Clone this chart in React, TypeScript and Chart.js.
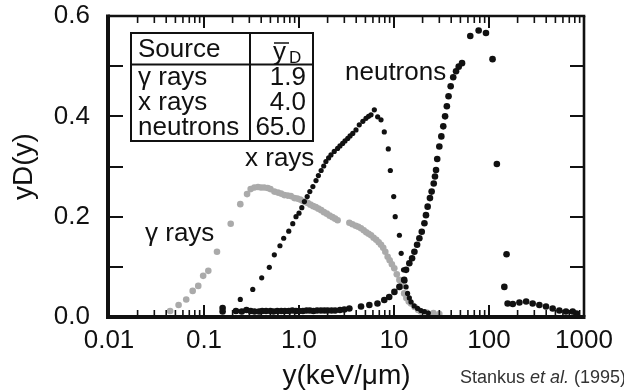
import React, { useEffect, useRef } from "react";
import { Chart, registerables } from "chart.js";

Chart.register(...registerables);

const FONT = "'Liberation Sans', Arial, Helvetica, sans-serif";

const xTickValues = [0.01, 0.1, 1, 10, 100, 1000];
const xTickLabels = ["0.01", "0.1", "1.0", "10", "100", "1000"];
const yTickValues = [0, 0.2, 0.4, 0.6];
const yTickLabels = ["0.0", "0.2", "0.4", "0.6"];

const gammaRays: [number, number][] = [
  [0.044, 0.012], [0.054, 0.024], [0.065, 0.035], [0.076, 0.052], [0.087, 0.062],
  [0.098, 0.082], [0.111, 0.092], [0.137, 0.13], [0.191, 0.186], [0.241, 0.225],
  [0.284, 0.245], [0.31, 0.255], [0.339, 0.258], [0.37, 0.259], [0.398, 0.258],
  [0.43, 0.258], [0.468, 0.257], [0.5, 0.255], [0.55, 0.25], [0.6, 0.248],
  [0.647, 0.246], [0.7, 0.243], [0.76, 0.242], [0.82, 0.241], [0.893, 0.237],
  [0.96, 0.236], [1.03, 0.234], [1.1, 0.231], [1.17, 0.229], [1.24, 0.227],
  [1.32, 0.224], [1.41, 0.221], [1.5, 0.219], [1.6, 0.216], [1.71, 0.213],
  [1.83, 0.209], [1.96, 0.206], [2.1, 0.202], [2.25, 0.199], [2.4, 0.196],
  [2.55, 0.193], [3.39, 0.188], [3.65, 0.185], [3.95, 0.182], [4.2, 0.18],
  [4.49, 0.177], [4.8, 0.173], [5.1, 0.169], [5.4, 0.166], [5.73, 0.163],
  [6.1, 0.158], [6.5, 0.154], [6.9, 0.149], [7.3, 0.144], [7.7, 0.138],
  [8.1, 0.13], [8.57, 0.12], [9.0, 0.113], [9.5, 0.105], [10.07, 0.097],
  [10.7, 0.085], [11.4, 0.074], [12.0, 0.062], [12.8, 0.047], [13.5, 0.038],
  [14.3, 0.031], [15.1, 0.027], [16.5, 0.02], [18, 0.014], [19.2, 0.011],
  [22, 0.009], [26, 0.008], [30, 0.006],
];

const xRays: [number, number][] = [
  [0.217, 0.011], [0.241, 0.035], [0.326, 0.055], [0.405, 0.078], [0.487, 0.099],
  [0.55, 0.124], [0.63, 0.142], [0.69, 0.157], [0.78, 0.171], [0.86, 0.186],
  [0.93, 0.2], [1.0, 0.207], [1.07, 0.218], [1.14, 0.23], [1.22, 0.24],
  [1.3, 0.25], [1.4, 0.26], [1.51, 0.272], [1.6, 0.282], [1.71, 0.292],
  [1.82, 0.301], [1.92, 0.31], [2.05, 0.317], [2.17, 0.323], [2.35, 0.33],
  [2.55, 0.336], [2.7, 0.341], [2.88, 0.346], [3.05, 0.351], [3.26, 0.356],
  [3.45, 0.361], [3.68, 0.366], [3.98, 0.373], [4.31, 0.383], [4.7, 0.39],
  [5.07, 0.396], [5.4, 0.4], [5.73, 0.403], [6.21, 0.413], [6.73, 0.399],
  [7.3, 0.393], [7.9, 0.369], [8.71, 0.335], [9.15, 0.292], [9.93, 0.24],
  [10.3, 0.2], [11.4, 0.163], [11.9, 0.127], [12.6, 0.094], [13.0, 0.072],
  [13.4, 0.06], [13.9, 0.047], [14.5, 0.038], [15.1, 0.03], [16.3, 0.022],
  [17.7, 0.017], [19.2, 0.013], [20.9, 0.011], [23, 0.008],
];

const neutrons: [number, number][] = [
  [0.157, 0.018], [0.157, 0.011], [0.217, 0.012], [0.25, 0.011], [0.28, 0.014],
  [0.31, 0.012], [0.34, 0.011], [0.38, 0.011], [0.41, 0.012], [0.45, 0.012],
  [0.5, 0.012], [0.54, 0.011], [0.59, 0.012], [0.65, 0.012], [0.71, 0.012],
  [0.78, 0.012], [0.85, 0.013], [0.93, 0.012], [1.0, 0.012], [1.1, 0.012],
  [1.2, 0.013], [1.3, 0.013], [1.42, 0.012], [1.55, 0.013], [1.7, 0.013],
  [1.85, 0.013], [2.0, 0.013], [2.2, 0.013], [2.4, 0.013], [2.7, 0.014],
  [3.0, 0.015], [3.39, 0.017], [4.5, 0.021], [5.5, 0.024], [6.7, 0.027],
  [7.9, 0.034], [8.9, 0.04], [10.1, 0.05], [11.4, 0.06], [12.8, 0.074],
  [13.4, 0.094], [14.5, 0.107], [15.5, 0.117], [16.4, 0.13], [17.5, 0.144],
  [18.5, 0.157], [19.6, 0.17], [20.9, 0.187], [21.7, 0.203], [22.6, 0.22],
  [23.9, 0.237], [24.9, 0.25], [26.2, 0.266], [27, 0.28], [27.7, 0.293],
  [28.5, 0.315], [30, 0.34], [31.5, 0.36], [33, 0.38], [34.5, 0.4],
  [36, 0.42], [37.5, 0.44], [39.5, 0.46], [42, 0.478], [45, 0.49],
  [48, 0.499], [52, 0.506], [63.5, 0.56], [77.8, 0.571], [92.9, 0.566],
  [109, 0.514], [121, 0.305], [153, 0.125], [145, 0.06], [157, 0.027],
  [178, 0.026], [209, 0.029], [246, 0.031], [288, 0.027], [339, 0.024],
  [398, 0.021], [468, 0.017], [550, 0.013], [646, 0.011], [760, 0.011],
  [831, 0.007],
];

const tableHeader = "Source";
const tableSources = ["\u03b3 rays", "x rays", "neutrons"];
const tableMeans = ["1.9", "4.0", "65.0"];
const curveLabels = ["neutrons", "x rays", "\u03b3 rays"];

const toPoints = (arr: [number, number][]) => arr.map(([x, y]) => ({ x, y }));

const framePlugin = {
  id: "frameTicks",
  afterDatasetsDraw(chart: any) {
    const { ctx, chartArea: a, scales } = chart;
    const xs = scales.x;
    const ys = scales.y;
    ctx.save();
    ctx.strokeStyle = "#111";
    const line = (x1: number, y1: number, x2: number, y2: number) => {
      ctx.beginPath();
      ctx.moveTo(x1, y1);
      ctx.lineTo(x2, y2);
      ctx.stroke();
    };
    ctx.lineWidth = 2;
    for (let i = 1; i < 6; i++) {
      const py = Math.round(ys.getPixelForValue(i / 10));
      line(a.left, py, a.left + 14, py);
      line(a.right - 14, py, a.right, py);
    }
    for (let d = 0.01; d < 1000; d *= 10) {
      for (let k = 1; k <= 9; k++) {
        const v = d * k;
        const px = xs.getPixelForValue(v);
        if (px <= a.left + 1 || px >= a.right - 1) continue;
        const len = k === 1 ? 12 : 7;
        ctx.lineWidth = k === 1 ? 2 : 1.6;
        line(px, a.bottom, px, a.bottom - len);
        line(px, a.top, px, a.top + len);
      }
    }
    ctx.lineWidth = 4;
    line(a.left - 1, a.top - 1.5, a.left - 1, a.bottom + 2);
    line(a.left - 3, a.bottom, a.right + 1.5, a.bottom);
    ctx.lineWidth = 2.6;
    line(a.left - 1, a.top, a.right + 1.3, a.top);
    line(a.right, a.top, a.right, a.bottom);
    ctx.restore();
  },
};

const annotationPlugin = {
  id: "annotations",
  afterDraw(chart: any) {
    const { ctx } = chart;
    ctx.save();
    ctx.strokeStyle = "#111";
    ctx.textBaseline = "alphabetic";
    ctx.fillStyle = "#fff";
    ctx.fillRect(131, 33, 182, 108);
    ctx.fillStyle = "#111";
    ctx.lineWidth = 2;
    ctx.strokeRect(131, 33, 182, 108);
    ctx.beginPath();
    ctx.moveTo(250, 33);
    ctx.lineTo(250, 141);
    ctx.moveTo(131, 64.5);
    ctx.lineTo(313, 64.5);
    ctx.stroke();
    ctx.font = `26px ${FONT}`;
    ctx.textAlign = "left";
    ctx.fillText(tableHeader, 138, 57);
    ctx.fillText("y", 273, 60);
    ctx.lineWidth = 1.5;
    ctx.beginPath();
    ctx.moveTo(274, 43);
    ctx.lineTo(289, 43);
    ctx.stroke();
    ctx.font = `17px ${FONT}`;
    ctx.fillText("D", 289, 63);
    ctx.font = `26px ${FONT}`;
    const baselines = [85, 110, 135];
    tableSources.forEach((s, i) => {
      ctx.textAlign = "left";
      ctx.fillText(s, 138, baselines[i]);
      ctx.textAlign = "right";
      ctx.fillText(tableMeans[i], 306, baselines[i]);
    });
    ctx.textAlign = "left";
    ctx.fillText(curveLabels[0], 345, 80);
    ctx.fillText(curveLabels[1], 245, 166);
    ctx.fillText(curveLabels[2], 145, 241);
    ctx.fillStyle = "#333";
    let x = 460;
    const by = 383;
    ctx.font = `18px ${FONT}`;
    ctx.fillText("Stankus ", x, by);
    x += ctx.measureText("Stankus ").width;
    ctx.font = `italic 18px ${FONT}`;
    ctx.fillText("et al.", x, by);
    x += ctx.measureText("et al.").width;
    ctx.font = `18px ${FONT}`;
    ctx.fillText(" (1995)", x, by);
    ctx.restore();
  },
};

export default function App() {
  const canvasRef = useRef<HTMLCanvasElement | null>(null);

  useEffect(() => {
    const canvas = canvasRef.current;
    if (!canvas) return;
    const chart = new Chart(canvas, {
      type: "scatter",
      data: {
        datasets: [
          {
            label: "neutrons",
            data: toPoints(neutrons),
            backgroundColor: "#111",
            borderWidth: 0,
            pointRadius: 3.3,
            order: 0,
          },
          {
            label: "x rays",
            data: toPoints(xRays),
            backgroundColor: "#111",
            borderWidth: 0,
            pointRadius: 2.6,
            order: 1,
          },
          {
            label: "gamma rays",
            data: toPoints(gammaRays),
            backgroundColor: "#aaaaaa",
            borderWidth: 0,
            pointRadius: 3.3,
            order: 2,
          },
        ],
      },
      options: {
        responsive: false,
        animation: false,
        devicePixelRatio: 1,
        layout: { padding: { left: 0, top: 16, right: 40, bottom: 0 } },
        plugins: {
          legend: { display: false },
          tooltip: { enabled: false },
        },
        scales: {
          x: {
            type: "logarithmic",
            min: 0.01,
            max: 1000,
            grid: { display: false, drawTicks: false, tickLength: 0 },
            border: { display: false },
            afterBuildTicks: (scale: any) => {
              scale.ticks = xTickValues.map((v) => ({ value: v, major: true }));
            },
            afterFit: (scale: any) => {
              scale.height = 73;
              scale.paddingLeft = 0;
              scale.paddingRight = 0;
              scale.paddingTop = 0;
              scale.paddingBottom = 0;
            },
            ticks: {
              autoSkip: false,
              maxRotation: 0,
              padding: 8,
              color: "#111",
              font: { family: FONT, size: 26 },
              callback: (_v: any, i: number) => xTickLabels[i],
            },
            title: {
              display: true,
              text: "y(keV/\u03bcm)",
              color: "#111",
              font: { family: FONT, size: 28, lineHeight: 1 },
              padding: { top: 0, bottom: 0 },
            },
          },
          y: {
            type: "linear",
            min: 0,
            max: 0.6,
            grid: { display: false, drawTicks: false, tickLength: 0 },
            border: { display: false },
            afterBuildTicks: (scale: any) => {
              scale.ticks = yTickValues.map((v) => ({ value: v }));
            },
            afterFit: (scale: any) => {
              scale.width = 109;
              scale.paddingLeft = 0;
              scale.paddingRight = 0;
              scale.paddingTop = 0;
              scale.paddingBottom = 0;
            },
            ticks: {
              autoSkip: false,
              padding: 19,
              color: "#111",
              font: { family: FONT, size: 26 },
              callback: (_v: any, i: number) => yTickLabels[i],
            },
            title: {
              display: true,
              text: "yD(y)",
              color: "#111",
              font: { family: FONT, size: 28, lineHeight: 1 },
              padding: { top: 10, bottom: 0 },
            },
          },
        },
      },
      plugins: [framePlugin, annotationPlugin],
    });
    return () => chart.destroy();
  }, []);

  return (
    <canvas
      ref={canvasRef}
      width={624}
      height={390}
      style={{ position: "fixed", left: 0, top: 0, width: 624, height: 390 }}
    />
  );
}
